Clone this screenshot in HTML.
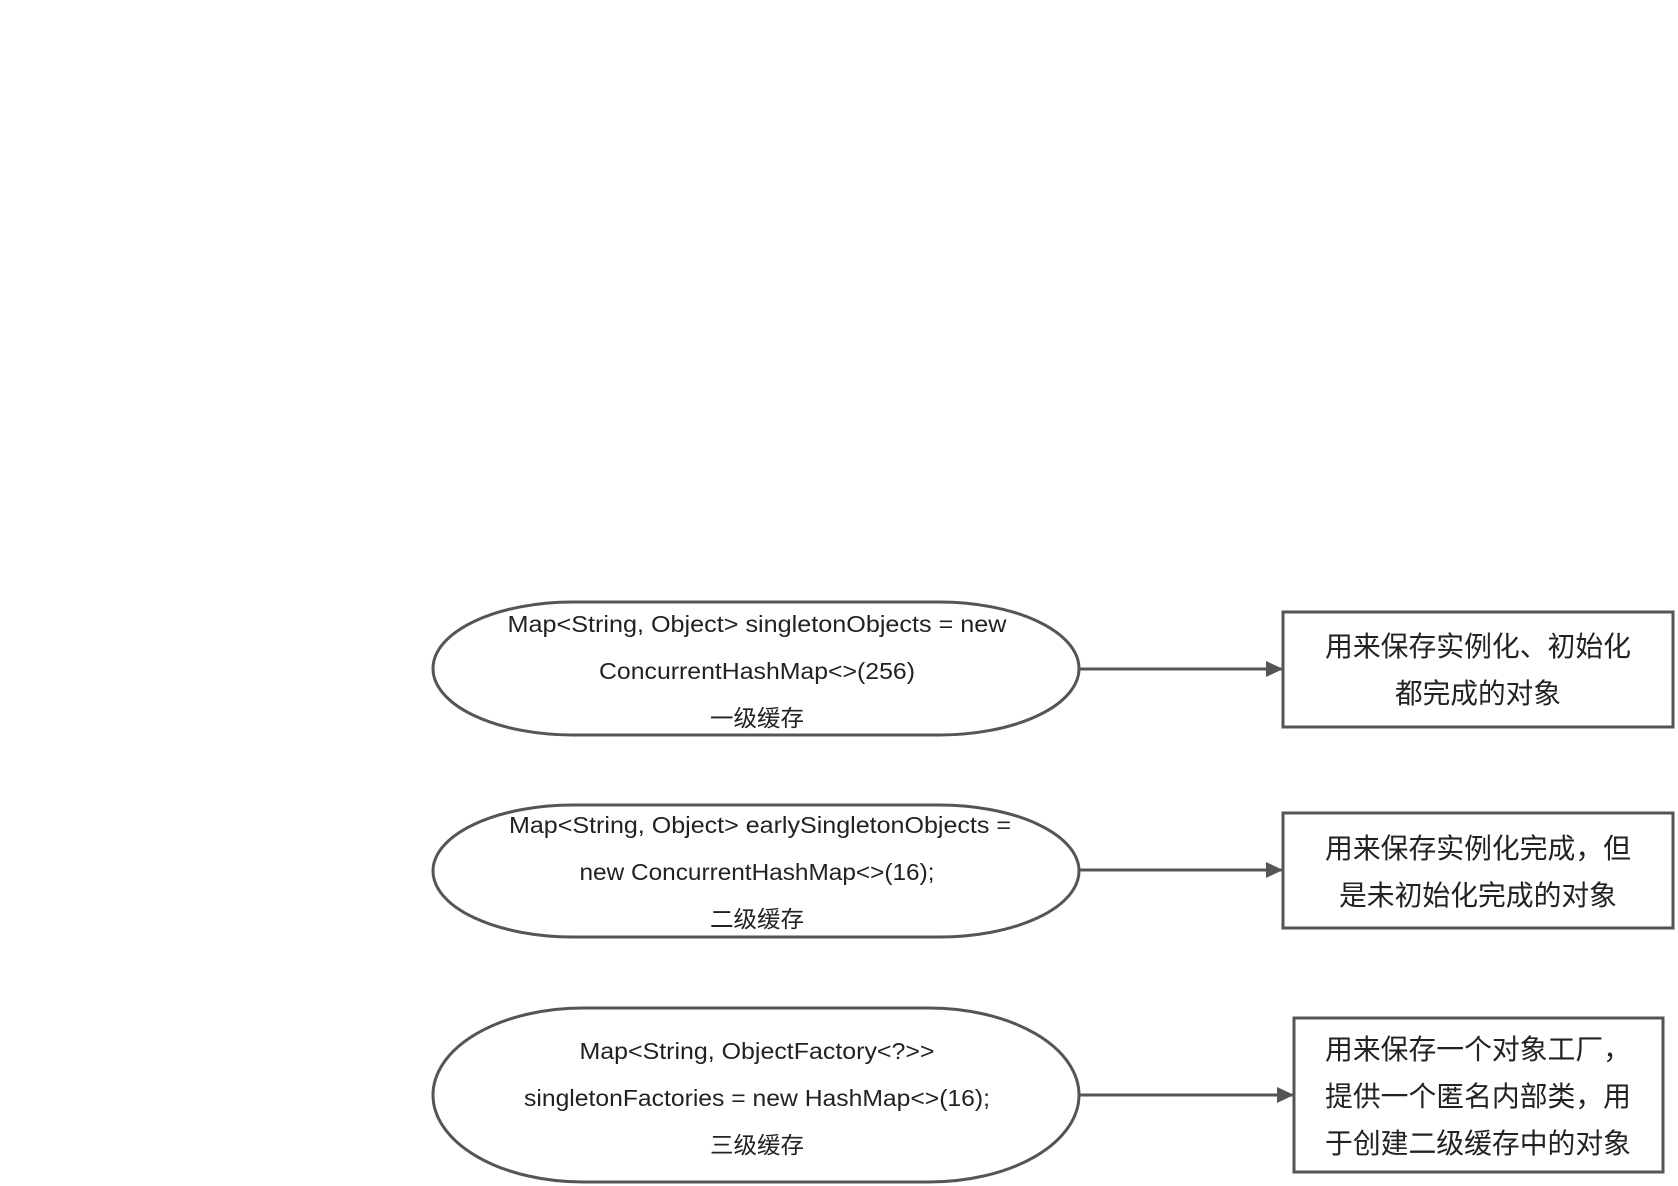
<!DOCTYPE html>
<html><head><meta charset="utf-8"><style>
html,body{margin:0;padding:0;background:#fff;}
svg{display:block}
text{font-family:"Liberation Sans","Noto Sans CJK SC",sans-serif;fill:#222;}
.e{font-size:23px}
.b{font-size:28px}
</style></head><body>
<svg width="1678" height="1186" viewBox="0 0 1678 1186" xmlns="http://www.w3.org/2000/svg">
<defs><marker id="a" markerWidth="17" markerHeight="16" refX="16" refY="8" orient="auto" markerUnits="userSpaceOnUse"><path d="M0,0 L17,8 L0,16 Z" fill="#555"/></marker></defs>
<g fill="none" stroke="#555" stroke-width="3">
<rect x="433" y="602" width="646" height="133" rx="140" ry="66.5"/>
<rect x="433" y="805" width="646" height="132" rx="140" ry="66"/>
<rect x="433" y="1008" width="646" height="174" rx="150" ry="87"/>
<rect x="1283" y="612" width="390" height="115"/>
<rect x="1283" y="813" width="390" height="115"/>
<rect x="1294" y="1018" width="369" height="154"/>
</g>
<g stroke="#555" stroke-width="3" marker-end="url(#a)">
<line x1="1080" y1="669" x2="1282" y2="669"/>
<line x1="1080" y1="870" x2="1282" y2="870"/>
<line x1="1080" y1="1095" x2="1293" y2="1095"/>
</g>
<g class="e" text-anchor="middle" lengthAdjust="spacingAndGlyphs">
<text x="757" y="632" textLength="499" lengthAdjust="spacingAndGlyphs">Map&lt;String, Object&gt; singletonObjects = new</text>
<text x="757" y="679" textLength="316" lengthAdjust="spacingAndGlyphs">ConcurrentHashMap&lt;&gt;(256)</text>
<text x="757" y="726" textLength="94" lengthAdjust="spacingAndGlyphs">一级缓存</text>
<text x="760" y="833" textLength="502" lengthAdjust="spacingAndGlyphs">Map&lt;String, Object&gt; earlySingletonObjects =</text>
<text x="757" y="880" textLength="355" lengthAdjust="spacingAndGlyphs">new ConcurrentHashMap&lt;&gt;(16);</text>
<text x="757" y="927" textLength="94" lengthAdjust="spacingAndGlyphs">二级缓存</text>
<text x="757" y="1059" textLength="355" lengthAdjust="spacingAndGlyphs">Map&lt;String, ObjectFactory&lt;?&gt;&gt;</text>
<text x="757" y="1106" textLength="466" lengthAdjust="spacingAndGlyphs">singletonFactories = new HashMap&lt;&gt;(16);</text>
<text x="757" y="1153" textLength="94" lengthAdjust="spacingAndGlyphs">三级缓存</text>
</g>
<g class="b" text-anchor="middle">
<text x="1478" y="656" textLength="306" lengthAdjust="spacingAndGlyphs">用来保存实例化、初始化</text>
<text x="1478" y="703" textLength="166" lengthAdjust="spacingAndGlyphs">都完成的对象</text>
<text x="1478" y="858" textLength="306" lengthAdjust="spacingAndGlyphs">用来保存实例化完成，但</text>
<text x="1478" y="905" textLength="278" lengthAdjust="spacingAndGlyphs">是未初始化完成的对象</text>
</g>
<g class="b">
<text x="1325" y="1059" textLength="306" lengthAdjust="spacingAndGlyphs">用来保存一个对象工厂，</text>
<text x="1325" y="1106" textLength="306" lengthAdjust="spacingAndGlyphs">提供一个匿名内部类，用</text>
<text x="1325" y="1153" textLength="306" lengthAdjust="spacingAndGlyphs">于创建二级缓存中的对象</text>
</g>
</svg>
</body></html>
